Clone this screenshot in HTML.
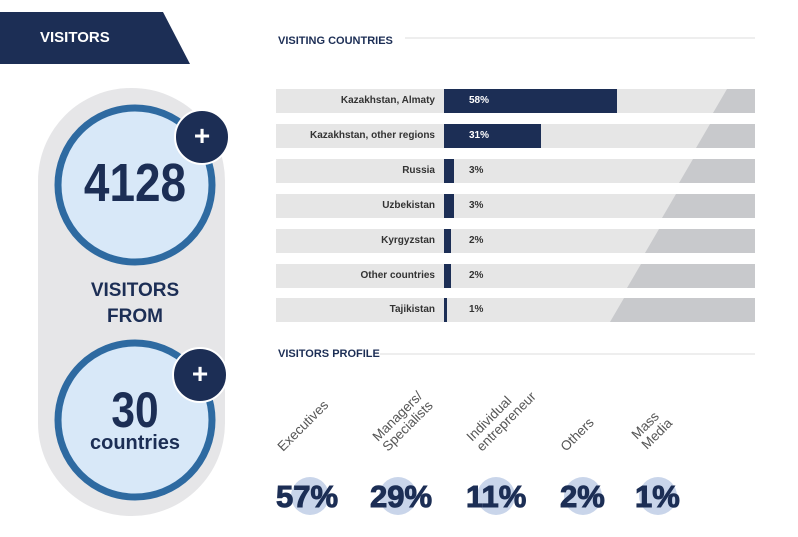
<!DOCTYPE html><html><head><style>
body{margin:0;width:798px;height:537px;background:#fff;position:relative;overflow:hidden;font-family:"Liberation Sans",sans-serif}
.a{position:absolute}
.row{position:absolute;left:276px;width:479px;height:24px;background:#e6e6e6}
.lab{position:absolute;right:320px;width:200px;text-align:right;font-size:10px;font-weight:bold;color:#333;line-height:24px}
.bar{position:absolute;left:168px;top:0;height:24px;background:#1c2e55}
.pc{position:absolute;left:193px;font-size:10px;font-weight:bold;line-height:24px;color:#333}
</style></head><body>
<svg class="a" style="left:0;top:0" width="798" height="537">
<polygon points="0,12 163,12 190,64 0,64" fill="#1c2e55"/>
<rect x="38" y="88" width="187" height="428" rx="93" fill="#e6e6e8"/>
<circle cx="135" cy="185" r="77" fill="#d8e8f8" stroke="#2e6aa1" stroke-width="7"/>
<circle cx="135" cy="420" r="77" fill="#d8e8f8" stroke="#2e6aa1" stroke-width="7"/>
<circle cx="202" cy="137" r="27" fill="#1c2e55" stroke="#fff" stroke-width="2"/>
<circle cx="200" cy="375" r="27" fill="#1c2e55" stroke="#fff" stroke-width="2"/>
<line x1="405" y1="38" x2="755" y2="38" stroke="#ddd"/>
<line x1="380" y1="354" x2="755" y2="354" stroke="#ddd"/>
<g fill="#c9d5ea">
<circle cx="310" cy="496" r="19"/><circle cx="398" cy="496" r="19"/><circle cx="496" cy="496" r="19"/><circle cx="583" cy="496" r="19"/><circle cx="658" cy="496" r="19"/></g>
<g font-family="Liberation Sans" font-size="13.5" fill="#555">
<text transform="translate(283,452) rotate(-45)">Executives</text>
<text transform="translate(378,442) rotate(-45)">Managers/</text>
<text transform="translate(388,452) rotate(-45)">Specialists</text>
<text transform="translate(472,442) rotate(-45)">Individual</text>
<text transform="translate(482,452) rotate(-45)">entrepreneur</text>
<text transform="translate(566,452) rotate(-45)">Others</text>
<text transform="translate(637,440) rotate(-45)">Mass</text>
<text transform="translate(647,450) rotate(-45)">Media</text>
</g>
<g font-family="Liberation Sans" font-weight="bold" font-size="31" fill="#1c2e55" stroke="#1c2e55" stroke-width="1">
<text x="276" y="507">57%</text><text x="370" y="507">29%</text><text x="466" y="507">11%</text><text x="560" y="507">2%</text><text x="635" y="507">1%</text></g>
</svg>
<div class="a" style="left:40px;top:29px;color:#fff;font-weight:bold;font-size:15px">VISITORS</div>
<div class="a" style="left:60px;top:152px;width:150px;text-align:center;font-size:54px;font-weight:bold;color:#1c2e55;transform:scaleX(.85)">4128</div>
<div class="a" style="left:188px;top:120px;width:28px;text-align:center;font-size:28px;font-weight:bold;color:#fff">+</div>
<div class="a" style="left:186px;top:358px;width:28px;text-align:center;font-size:28px;font-weight:bold;color:#fff">+</div>
<div class="a" style="left:60px;top:278px;width:150px;text-align:center;font-size:19px;font-weight:bold;color:#1c2e55;line-height:26px">VISITORS<br>FROM</div>
<div class="a" style="left:60px;top:381px;width:150px;text-align:center;font-size:50px;font-weight:bold;color:#1c2e55;transform:scaleX(.85)">30</div>
<div class="a" style="left:60px;top:432px;width:150px;text-align:center;font-size:20px;font-weight:bold;color:#1c2e55">countries</div>
<div class="a" style="left:278px;top:35px;font-size:11px;font-weight:bold;color:#1c2e55">VISITING COUNTRIES</div>
<div class="a" style="left:278px;top:348px;font-size:11px;font-weight:bold;color:#1c2e55">VISITORS PROFILE</div>
<div class="row" style="top:89px"><div class="lab">Kazakhstan, Almaty</div><div class="bar" style="width:173px"></div><div class="pc" style="color:#fff">58%</div></div>
<div class="row" style="top:124px"><div class="lab">Kazakhstan, other regions</div><div class="bar" style="width:97px"></div><div class="pc" style="color:#fff">31%</div></div>
<div class="row" style="top:159px"><div class="lab">Russia</div><div class="bar" style="width:10px"></div><div class="pc">3%</div></div>
<div class="row" style="top:194px"><div class="lab">Uzbekistan</div><div class="bar" style="width:10px"></div><div class="pc">3%</div></div>
<div class="row" style="top:229px"><div class="lab">Kyrgyzstan</div><div class="bar" style="width:7px"></div><div class="pc">2%</div></div>
<div class="row" style="top:264px"><div class="lab">Other countries</div><div class="bar" style="width:7px"></div><div class="pc">2%</div></div>
<div class="row" style="top:298px"><div class="lab">Tajikistan</div><div class="bar" style="width:3px"></div><div class="pc">1%</div></div>
<svg class="a" style="left:0;top:0" width="798" height="537"><g fill="#c8c9cc">
<polygon points="727,89 755,89 755,113 713,113"/>
<polygon points="710,124 755,124 755,148 696,148"/>
<polygon points="693,159 755,159 755,183 679,183"/>
<polygon points="676,194 755,194 755,218 662,218"/>
<polygon points="659,229 755,229 755,253 645,253"/>
<polygon points="641,264 755,264 755,288 627,288"/>
<polygon points="624,298 755,298 755,322 610,322"/>
</g></svg>
</body></html>
